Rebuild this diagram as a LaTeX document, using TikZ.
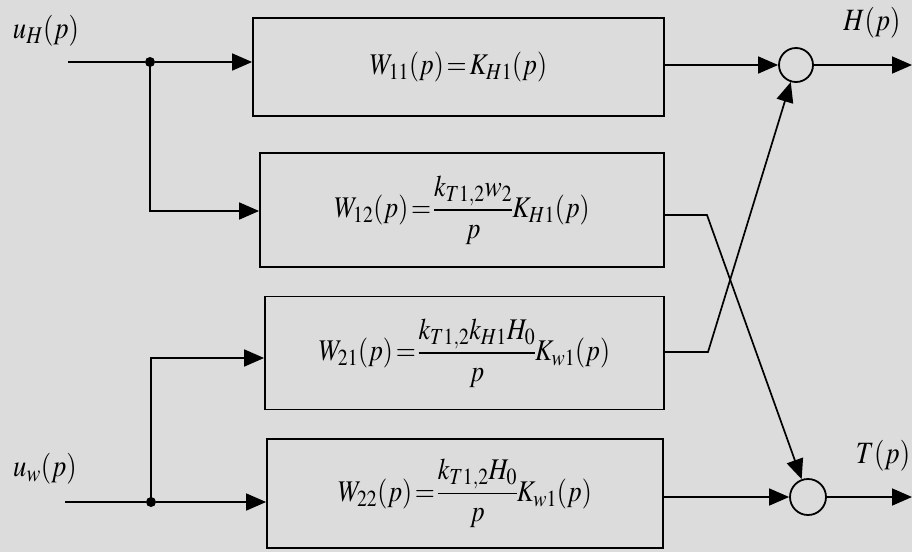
\documentclass[tikz,border=0pt]{standalone}
\usepackage{amsmath}
\usepackage{graphicx}
\usepackage{mathptmx}
\usetikzlibrary{arrows.meta}
\DeclareMathSizes{30}{30}{23}{18}
\DeclareMathSizes{31}{31}{24}{18}
\definecolor{bgc}{RGB}{220,220,220}
\newcommand{\mtx}[1]{\scalebox{0.86}[1]{$\thickmuskip=2mu\medmuskip=1mu\nulldelimiterspace=0pt #1$}}
\begin{document}
\begin{tikzpicture}[x=1pt,y=-1pt,
  blk/.style={draw,line width=1.8pt,inner sep=0pt,font=\fontsize{30}{34}\selectfont},
  sumc/.style={draw,circle,line width=1.8pt,inner sep=0pt},
  ln/.style={line width=1.7pt},
  arr/.style={ln,-{Triangle[length=20pt,width=17pt]}},
  lbl/.style={font=\fontsize{31}{35}\selectfont,inner sep=0pt},
  dotn/.style={circle,fill=black,inner sep=0pt,minimum size=10pt}]
\fill[bgc] (0,0) rectangle (912,552);
\useasboundingbox (0,0) rectangle (912,552);
% blocks
\node[blk,minimum width=411pt,minimum height=98pt] (b1) at (458.5,67) {\mtx{W_{11}(p)=K_{H1}(p)}};
\node[blk,minimum width=404pt,minimum height=114pt] (b2) at (462,210) {\mtx{W_{12}(p)=\dfrac{k_{T1,2}w_2}{p}K_{H1}(p)}};
\node[blk,minimum width=399pt,minimum height=113pt] (b3) at (464.5,353) {\mtx{W_{21}(p)=\dfrac{k_{T1,2}k_{H1}H_0}{p}K_{w1}(p)}};
\node[blk,minimum width=396pt,minimum height=109pt] (b4) at (465,493.5) {\mtx{W_{22}(p)=\dfrac{k_{T1,2}H_0}{p}K_{w1}(p)}};
% summing junctions
\node[sumc,minimum size=34pt] (s1) at (796,65) {};
\node[sumc,minimum size=36pt] (s2) at (808,497) {};
% labels
\node[lbl] (luH) at (46,31) {\mtx{u_H(p)}};
\node[lbl] (luw) at (45,469) {\mtx{u_w(p)}};
\node[lbl] (lH) at (872,23) {\mtx{H(p)}};
\node[lbl] (lT) at (883,456) {\mtx{T(p)}};
% inputs
\coordinate (iH) at (68,62);
\node[dotn] (j1) at (150,62) {};
\coordinate (iw) at (65,502);
\node[dotn] (j2) at (151,502) {};
\draw[ln] (iH) -- (j1);
\draw[arr] (j1) -- (b1.west |- j1);
\draw[arr] (j1.center) |- (b2.west |- 0,211);
\draw[ln] (iw) -- (j2);
\draw[arr] (j2) -- (b4.west |- j2);
\draw[arr] (j2.center) |- (b3.west |- 0,358);
% outputs
\coordinate (o1) at (912,65);
\coordinate (o2) at (912,497);
\draw[arr] (b1.east |- s1) -- (s1);
\draw[arr] (s1) -- (o1);
\draw[arr] (b4.east |- s2) -- (s2);
\draw[arr] (s2) -- (o2);
\coordinate (k2) at (707,215);
\coordinate (k3) at (708,352);
\draw[arr] (b2.east |- k2) -- (k2) -- (s2);
\draw[arr] (b3.east |- k3) -- (k3) -- (s1);
\end{tikzpicture}
\end{document}
